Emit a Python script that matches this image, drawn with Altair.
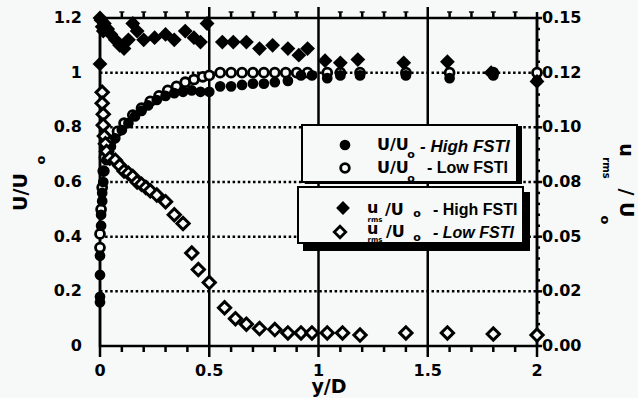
import altair as alt
import pandas as pd

# ---------------- data ----------------
# U/Uo - High FSTI (filled circles), left axis
uh_x = [0.0, 0.0, 0.0, 0.0, 0.005, 0.005, 0.01, 0.01, 0.015, 0.02, 0.03, 0.04, 0.05, 0.07, 0.10,
        0.13, 0.16, 0.19, 0.22, 0.26, 0.30, 0.34, 0.38, 0.42, 0.46, 0.50,
        0.55, 0.60, 0.65, 0.70, 0.75, 0.80, 0.86, 0.92, 0.97,
        1.04, 1.10, 1.19, 1.40, 1.60, 1.80, 2.00]
uh_v = [0.16, 0.18, 0.26, 0.33, 0.44, 0.48, 0.53, 0.56, 0.60, 0.64, 0.68, 0.71, 0.73, 0.76, 0.79,
        0.815, 0.84, 0.86, 0.88, 0.90, 0.915, 0.925, 0.93, 0.935, 0.93, 0.93,
        0.95, 0.95, 0.955, 0.96, 0.96, 0.965, 0.97, 0.99, 0.99,
        0.98, 0.99, 0.99, 0.99, 0.98, 0.99, 0.97]

# U/Uo - Low FSTI (open circles), left axis
ul_x = [0.0, 0.0, 0.005, 0.01, 0.015, 0.02, 0.03, 0.05, 0.08, 0.11, 0.15, 0.19, 0.23, 0.27,
        0.31, 0.35, 0.39, 0.43, 0.47, 0.50,
        0.55, 0.60, 0.65, 0.70, 0.75, 0.80, 0.85, 0.90, 0.95,
        1.04, 1.10, 1.19, 1.40, 1.60, 1.80, 2.00]
ul_v = [0.36, 0.41, 0.50, 0.58, 0.64, 0.69, 0.72, 0.75, 0.785, 0.815, 0.845, 0.87, 0.895, 0.915,
        0.935, 0.95, 0.965, 0.975, 0.985, 0.99,
        1.0, 1.0, 1.0, 1.0, 1.0, 1.0, 1.0, 1.0, 1.0,
        1.0, 1.0, 1.0, 1.0, 1.0, 1.0, 1.0]

# u_rms/Uo - High FSTI (filled diamonds), right axis
dh_x = [0.0, 0.0, 0.005, 0.01, 0.015, 0.02, 0.035, 0.05, 0.07, 0.09, 0.11, 0.13, 0.15, 0.17,
        0.20, 0.25, 0.30, 0.34, 0.39, 0.43, 0.46, 0.49,
        0.56, 0.61, 0.67, 0.73, 0.79, 0.86, 0.91, 0.95,
        1.03, 1.10, 1.18, 1.39, 1.59, 1.79, 2.00]
dh_v = [0.129, 0.150, 0.149, 0.146, 0.144, 0.1475, 0.145, 0.1425, 0.140, 0.1375, 0.136, 0.140, 0.1475, 0.144,
        0.140, 0.141, 0.1425, 0.140, 0.144, 0.141, 0.139, 0.1475,
        0.139, 0.139, 0.139, 0.136, 0.1375, 0.136, 0.133, 0.136,
        0.1305, 0.1295, 0.131, 0.1295, 0.130, 0.125, 0.121]

# u_rms/Uo - Low FSTI (open diamonds), right axis
dl_x = [0.01, 0.01, 0.015, 0.015, 0.02, 0.025, 0.03, 0.045, 0.07, 0.09, 0.11, 0.13, 0.15, 0.17,
        0.19, 0.21, 0.23, 0.26, 0.30, 0.34, 0.38, 0.42, 0.45, 0.50,
        0.57, 0.62, 0.67, 0.73, 0.80, 0.86, 0.92, 0.97,
        1.04, 1.11, 1.19, 1.40, 1.59, 1.80, 2.00]
dl_v = [0.116, 0.111, 0.106, 0.101, 0.096, 0.0925, 0.089, 0.086, 0.085, 0.0825, 0.080, 0.079, 0.0775, 0.075,
        0.074, 0.0725, 0.071, 0.069, 0.066, 0.060, 0.056, 0.0425, 0.035, 0.029,
        0.0175, 0.0125, 0.010, 0.008, 0.0075, 0.006, 0.006, 0.006,
        0.006, 0.006, 0.005, 0.006, 0.006, 0.0055, 0.005]

# axes / grid
left_ticks = [0, 0.2, 0.4, 0.6, 0.8, 1, 1.2]
left_labels = ["0", "0.2", "0.4", "0.6", "0.8", "1", "1.2"]
grid_y = [0.2, 0.4, 0.6, 0.8, 1.0]
vline_x = [0.5, 1.0, 1.5]
x_major = [0, 0.5, 1, 1.5, 2]
x_labels = ["0", "0.5", "1", "1.5", "2"]
x_minor = [round(i * 0.1, 1) for i in range(21) if i % 5 != 0]
x_ends = [0, 2]
right_major = [0, 0.025, 0.05, 0.075, 0.1, 0.125, 0.15]
right_minor = [round(i * 0.005, 3) for i in range(31) if i % 5 != 0]
right_labels = ["0.00", "0.02", "0.05", "0.08", "0.10", "0.12", "0.15"]

W, H = 437, 328
FONT = "DejaVu Sans"
LFONT = "Liberation Sans"
BLACK = "#000000"
BG = "#f7f8f8"

xs = alt.Scale(domain=[0, 2], nice=False, zero=False)
yl = alt.Scale(domain=[0, 1.2], nice=False, zero=False)
yr = alt.Scale(domain=[0, 0.15], nice=False, zero=False)

# dotted horizontal grid lines
grid = alt.Chart(pd.DataFrame({"g": grid_y})).mark_rule(
    color=BLACK, strokeWidth=2.5, strokeDash=[2.5, 2.6]
).encode(
    y=alt.Y("g:Q", scale=yl, axis=None),
    x=alt.value(0), x2=alt.value(W),
)

# left labels
llab = alt.Chart(pd.DataFrame({"t": left_ticks, "lab": left_labels})).mark_text(
    font=FONT, fontWeight="bold", fontSize=16, align="right", baseline="middle", color=BLACK
).encode(y=alt.Y("t:Q", scale=yl, axis=None), x=alt.value(-18), text="lab:N")

# vertical solid lines
vlines = alt.Chart(pd.DataFrame({"v": vline_x})).mark_rule(color=BLACK, strokeWidth=2.5).encode(
    x=alt.X("v:Q", scale=xs, axis=None),
    y=alt.value(-11), y2=alt.value(H + 11),
)

# bottom labels
blab = alt.Chart(pd.DataFrame({"t": x_major, "lab": x_labels})).mark_text(
    font=FONT, fontWeight="bold", fontSize=16, align="center", baseline="top", color=BLACK
).encode(x=alt.X("t:Q", scale=xs, axis=None), y=alt.value(H + 17), text="lab:N")

# tick marks along the frame
xm = pd.DataFrame({"t": x_minor})
bot_minor = alt.Chart(xm).mark_rule(color=BLACK, strokeWidth=2.5).encode(
    x=alt.X("t:Q", scale=xs, axis=None), y=alt.value(H), y2=alt.value(H + 6))
top_minor = alt.Chart(xm).mark_rule(color=BLACK, strokeWidth=2.5).encode(
    x=alt.X("t:Q", scale=xs, axis=None), y=alt.value(-6), y2=alt.value(0))
top_caps = alt.Chart(xm).mark_tick(color=BLACK, orient="horizontal", size=5, thickness=2).encode(
    x=alt.X("t:Q", scale=xs, axis=None), y=alt.value(-6))
ends = alt.Chart(pd.DataFrame({"t": x_ends})).mark_rule(color=BLACK, strokeWidth=2.5).encode(
    x=alt.X("t:Q", scale=xs, axis=None), y=alt.value(-6), y2=alt.value(H + 11))

rmaj = alt.Chart(pd.DataFrame({"t": right_major})).mark_rule(color=BLACK, strokeWidth=2.5).encode(
    y=alt.Y("t:Q", scale=yr, axis=None), x=alt.value(W), x2=alt.value(W + 5))
rlab = alt.Chart(pd.DataFrame({"t": right_major, "lab": right_labels})).mark_text(
    font=FONT, fontWeight="bold", fontSize=16, align="left", baseline="middle", color=BLACK
).encode(y=alt.Y("t:Q", scale=yr, axis=None), x=alt.value(W + 5), text="lab:N")
rmin = alt.Chart(pd.DataFrame({"t": right_minor})).mark_rule(color=BLACK, strokeWidth=2.5).encode(
    y=alt.Y("t:Q", scale=yr, axis=None), x=alt.value(W), x2=alt.value(W + 3))

uh = alt.Chart(pd.DataFrame({"x": uh_x, "v": uh_v})).mark_point(
    shape="circle", filled=True, color=BLACK, size=115, opacity=1
).encode(x=alt.X("x:Q", scale=xs, axis=None), y=alt.Y("v:Q", scale=yl, axis=None))

ul = alt.Chart(pd.DataFrame({"x": ul_x, "v": ul_v})).mark_point(
    shape="circle", filled=True, fill=BG, stroke=BLACK, strokeWidth=2.8, size=80, opacity=1
).encode(x=alt.X("x:Q", scale=xs, axis=None), y=alt.Y("v:Q", scale=yl, axis=None))

dh = alt.Chart(pd.DataFrame({"x": dh_x, "v": dh_v})).mark_point(
    shape="diamond", filled=True, color=BLACK, size=220, opacity=1
).encode(x=alt.X("x:Q", scale=xs, axis=None), y=alt.Y("v:Q", scale=yr, axis=None))

dl = alt.Chart(pd.DataFrame({"x": dl_x, "v": dl_v})).mark_point(
    shape="diamond", filled=True, fill=BG, stroke=BLACK, strokeWidth=3, size=150, opacity=1
).encode(x=alt.X("x:Q", scale=xs, axis=None), y=alt.Y("v:Q", scale=yr, axis=None))

one = pd.DataFrame({"k": [0]})


def box(x1, y1, x2, y2, fill, stroke=None, sw=0):
    kw = dict(fill=fill)
    if stroke:
        kw.update(stroke=stroke, strokeWidth=sw)
    return alt.Chart(one).mark_rect(**kw).encode(
        x=alt.value(x1), x2=alt.value(x2), y=alt.value(y1), y2=alt.value(y2))


def txt(s, x, y, size, angle=0, align="left", baseline="alphabetic", style="normal",
        font=FONT, weight="bold"):
    return alt.Chart(one).mark_text(
        text=s, font=font, fontSize=size, fontWeight=weight, fontStyle=style,
        angle=angle, align=align, baseline=baseline, color=BLACK
    ).encode(x=alt.value(x), y=alt.value(y))


def sym(shape, x, y, size, filled):
    if filled:
        m = alt.Chart(one).mark_point(shape=shape, filled=True, color=BLACK, size=size, opacity=1)
    else:
        m = alt.Chart(one).mark_point(shape=shape, filled=True, fill=BG, stroke=BLACK,
                                      strokeWidth=2.8, size=size, opacity=1)
    return m.encode(x=alt.value(x), y=alt.value(y))


legend = [
    # box 1
    box(205, 108, 422, 166, BLACK),
    box(202, 107, 417, 164, BG, BLACK, 2),
    # box 2
    box(203, 174, 430, 233, BLACK),
    box(198, 169, 423, 225, BG, BLACK, 2),
    # row 1
    sym("circle", 245, 127, 115, True),
    txt("U/U", 277, 132, 16),
    txt("o", 311, 137, 11, align="center", baseline="middle"),
    txt("- High FSTI", 320, 134, 17, style="italic", font=LFONT),
    # row 2
    sym("circle", 245, 150, 75, False),
    txt("U/U", 277, 155, 16),
    txt("o", 311, 161, 11, align="center", baseline="middle"),
    txt("- Low FSTI", 327, 155, 16, font=LFONT),
    # row 3
    sym("diamond", 243, 190, 190, True),
    txt("u", 267, 195, 16),
    txt("rms", 275, 202, 7, align="center", baseline="middle"),
    txt("/U", 285, 197, 16),
    txt("o", 317, 196, 11, align="center", baseline="middle"),
    txt("- High FSTI", 333, 197, 16, font=LFONT),
    # row 4
    sym("diamond", 240, 214, 130, False),
    txt("u", 267, 216, 16),
    txt("rms", 275, 222, 7, align="center", baseline="middle"),
    txt("/U", 286, 219, 16),
    txt("o", 317, 220, 11, align="center", baseline="middle"),
    txt("- Low FSTI", 333, 220, 16, style="italic", font=LFONT),
]

titles = [
    txt("U/U", -73, 174, 19, angle=270, align="center"),
    txt("o", -59, 142, 13, angle=270, align="center", baseline="middle"),
    txt("u", 520, 132, 19, angle=90, align="center"),
    txt("rms", 506, 150, 10, angle=90, align="center", baseline="middle"),
    txt("/ U", 520, 185, 19, angle=90, align="center"),
    txt("o", 505, 202, 13, angle=90, align="center", baseline="middle"),
    txt("y/D", 229, 375, 19, align="center"),
]

chart = alt.layer(
    grid, llab, vlines, blab, bot_minor, top_minor, top_caps, ends, rmaj, rmin, rlab,
    ul, uh, dl, dh, *legend, *titles
).resolve_scale(
    y="independent"
).properties(
    width=W, height=H,
    padding={"left": 100, "top": 18, "right": 101, "bottom": 52},
    autosize=alt.AutoSizeParams(type="none"),
    background=BG,
).configure_view(
    stroke=BLACK, strokeWidth=2.5
)

chart.save("out.html", embed_options={"renderer": "svg", "actions": False})
